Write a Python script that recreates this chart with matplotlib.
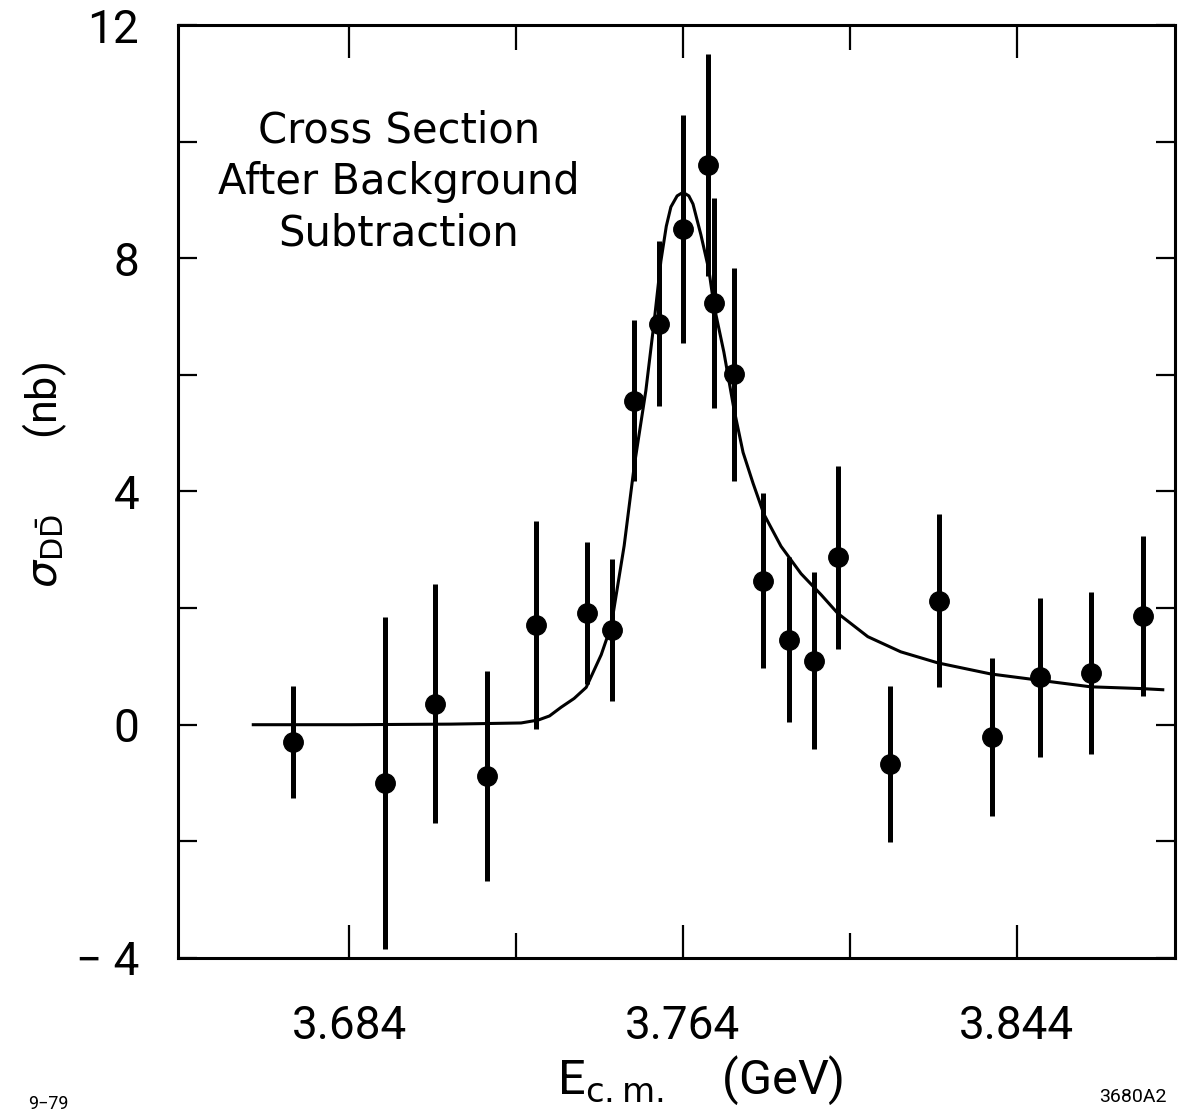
import matplotlib
matplotlib.use("Agg")
import matplotlib.pyplot as plt
from matplotlib.ticker import FixedLocator

# ---- data ----
energy = [3.6706, 3.6926, 3.7046, 3.7171, 3.7288, 3.7410, 3.7470, 3.7523,
          3.7583, 3.7640, 3.7700, 3.7714, 3.7762, 3.7832, 3.7894, 3.7954,
          3.8011, 3.8136, 3.8253, 3.8380, 3.8495, 3.8617, 3.8742]
sigma = [-0.30, -1.00, 0.36, -0.88, 1.71, 1.91, 1.63, 5.56,
         6.88, 8.50, 9.60, 7.23, 6.01, 2.47, 1.46, 1.10,
         2.87, -0.67, 2.13, -0.21, 0.81, 0.88, 1.87]
sigma_err = [0.96, 2.85, 2.05, 1.80, 1.78, 1.22, 1.22, 1.38,
             1.42, 1.96, 1.90, 1.80, 1.83, 1.50, 1.42, 1.52,
             1.57, 1.34, 1.48, 1.35, 1.37, 1.39, 1.37]

fit_energy = [3.6610, 3.6845, 3.7084, 3.7252, 3.7293, 3.7320, 3.7348, 3.7379,
              3.7408, 3.7444, 3.7468, 3.7499, 3.7523, 3.7551, 3.7571, 3.7587,
              3.7600, 3.7611, 3.7626, 3.7640, 3.7654, 3.7664, 3.7683, 3.7702,
              3.7714, 3.7738, 3.7762, 3.7784, 3.7808, 3.7834, 3.7875, 3.7923,
              3.7971, 3.8011, 3.8083, 3.8162, 3.8251, 3.8378, 3.8497, 3.8617,
              3.8737, 3.8790]
fit_sigma = [0.00, 0.00, 0.01, 0.03, 0.08, 0.15, 0.30, 0.45,
             0.64, 1.20, 1.70, 3.07, 4.43, 5.73, 6.92, 7.95,
             8.55, 8.88, 9.07, 9.13, 9.07, 8.93, 8.40, 7.80,
             7.20, 6.39, 5.42, 4.67, 4.14, 3.61, 3.06, 2.59,
             2.23, 1.91, 1.51, 1.25, 1.06, 0.87, 0.76, 0.65,
             0.62, 0.60]

x_ticks_major = [3.684, 3.764, 3.844]
x_ticks_minor = [3.724, 3.804]
y_ticks_major = [-4, 0, 4, 8, 12]
y_ticks_minor = [-2, 2, 6, 10]

FONT = ['Roboto', 'DejaVu Sans']

fig = plt.figure(figsize=(11.8, 11.17), dpi=100)
ax = fig.add_axes([0.151, 0.1424, 0.845, 0.8352])

ax.plot(fit_energy, fit_sigma, color='black', lw=2.2, zorder=2,
        solid_joinstyle='round')
ax.errorbar(energy, sigma, yerr=sigma_err, fmt='o', color='black',
            ms=14, elinewidth=3.6, capsize=0, zorder=3)

ax.set_xlim(3.643, 3.882)
ax.set_ylim(-4, 12)

ax.xaxis.set_major_locator(FixedLocator(x_ticks_major))
ax.xaxis.set_minor_locator(FixedLocator(x_ticks_minor))
ax.yaxis.set_major_locator(FixedLocator(y_ticks_major))
ax.yaxis.set_minor_locator(FixedLocator(y_ticks_minor))
ax.set_xticklabels([f"{v:.3f}" for v in x_ticks_major])
ax.set_yticklabels([str(v).replace('-', '\u2212 ') for v in y_ticks_major])

ax.tick_params(axis='x', which='major', direction='in', length=24, width=1.6,
               top=True, bottom=True, pad=33, labelsize=33)
ax.tick_params(axis='x', which='minor', direction='in', length=18, width=1.6,
               top=True, bottom=True)
ax.tick_params(axis='y', which='both', direction='in', length=14, width=1.6,
               left=True, right=True, pad=28, labelsize=33)
for lab in ax.get_xticklabels() + ax.get_yticklabels():
    lab.set_family(FONT)

for sp in ax.spines.values():
    sp.set_linewidth(2.2)

fig.text(399 / 1180, 1 - 182 / 1117, "Cross Section\nAfter Background\nSubtraction",
         ha='center', va='center', fontsize=30, linespacing=1.3,
         family=['DejaVu Sans'])

fig.text(45 / 1180, 1 - 475 / 1117, r"$\sigma_{\mathrm{D\bar{D}}}$       (nb)",
         rotation=90, ha='center', va='center', fontsize=31, family=FONT)
fig.text(700 / 1180, 1 - 1080 / 1117, r"E$_{\mathrm{c.m.}}$    (GeV)",
         ha='center', va='center', fontsize=35, family=FONT)

fig.text(48 / 1180, 1 - 1104 / 1117, "9\u221279", ha='center', va='center',
         fontsize=13, family=FONT)
fig.text(1133 / 1180, 1 - 1097 / 1117, "3680A2", ha='center', va='center',
         fontsize=14, family=FONT)

fig.savefig("out.png", dpi=100)
